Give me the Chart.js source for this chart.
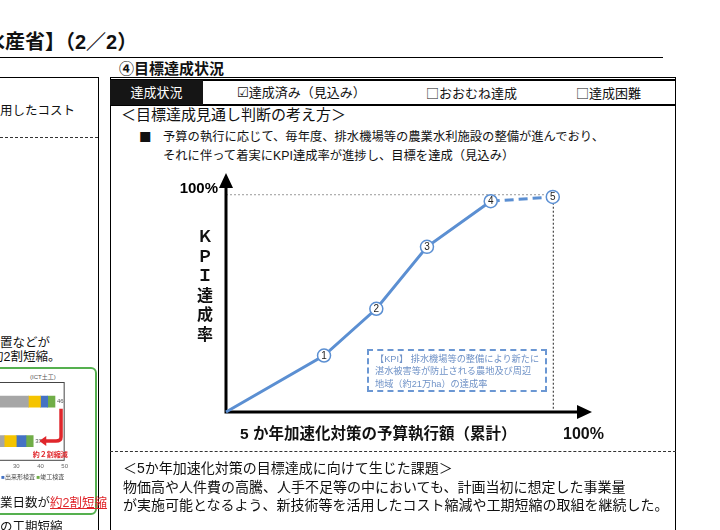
<!DOCTYPE html>
<html lang="ja">
<head>
<meta charset="utf-8">
<script src="https://cdn.jsdelivr.net/npm/chart.js@4.4.1/dist/chart.umd.min.js"></script>
<style>
  html, body { margin:0; padding:0; background:#fff; }
  body { width:720px; height:530px; position:relative; overflow:hidden;
         font-family:"Liberation Sans","Noto Sans CJK JP",sans-serif; color:#111; }
  .t { position:absolute; white-space:nowrap; line-height:1; }
  .b { font-weight:bold; }
  .ln { position:absolute; background:#000; }
  .cj { font-family:"Noto Sans CJK JP"; }
  .dv { font-family:"DejaVu Sans"; }
  canvas { position:absolute; }
</style>
</head>
<body>

<!-- page title / section title -->
<div class="t b" style="left:-75px;top:32px;font-size:20px;">【農林水産省】（2／2）</div>
<div class="ln" style="left:0;top:57px;width:663px;height:1px;"></div>
<div class="t b" style="left:119px;top:61px;font-size:15px;">④目標達成状況</div>

<!-- left (cut off) panel -->
<div class="ln" style="left:0;top:77px;width:98px;height:1px;"></div>
<div class="ln" style="left:98px;top:77px;width:1px;height:460px;"></div>
<div class="t" style="left:0;top:105px;font-size:12.5px;">用したコスト</div>
<div style="position:absolute;left:0;top:137px;width:98px;border-top:1px dashed #333;"></div>
<div class="t" style="left:0;top:337px;font-size:12.5px;">置などが</div>
<div class="t" style="left:-9px;top:351px;font-size:12.5px;">約2割短縮。</div>
<div style="position:absolute;left:-10px;top:367px;width:103px;height:144px;border:2px solid #55b04f;border-radius:6px;"></div>
<div class="t" style="left:30px;top:374px;font-size:6px;color:#555;">(ICT土工)</div>
<canvas id="chart_ict" width="130" height="95" style="left:-60px;top:380px;"></canvas>
<div class="t" style="left:-22px;top:474px;font-size:6px;color:#444;">
  <span style="color:#f5c400">■</span>準備費 <span style="color:#4472c4">■</span>出来形検査 <span style="color:#70ad47">■</span>竣工検査</div>
<div class="t" style="left:-12.5px;top:497px;font-size:12.5px;">作業日数が<span style="color:#e0262b;text-decoration:underline;">約2割短縮</span></div>
<div class="t" style="left:0;top:521px;font-size:12.5px;">の工期短縮</div>

<!-- right panel frame -->
<div style="position:absolute;left:110px;top:77px;width:566px;height:470px;border:1px solid #000;box-sizing:border-box;"></div>
<div style="position:absolute;left:110px;top:79px;width:566px;height:27px;border-top:2px solid #000;border-bottom:2px solid #000;box-sizing:border-box;"></div>
<div style="position:absolute;left:110px;top:80px;width:93px;height:25px;background:#151515;"></div>
<div class="t" style="left:110px;top:86px;width:93px;text-align:center;font-size:13px;color:#fff;">達成状況</div>
<div class="t" style="left:237px;top:86px;font-size:13px;"><span class="dv" style="font-size:13px;">☑</span>達成済み（見込み）</div>
<div class="t" style="left:426px;top:86px;font-size:13px;"><span class="cj">□</span>おおむね達成</div>
<div class="t" style="left:576px;top:86px;font-size:13px;"><span class="cj">□</span>達成困難</div>

<div class="t" style="left:121px;top:107px;font-size:15px;">＜目標達成見通し判断の考え方＞</div>
<div class="t cj" style="left:139px;top:131px;font-size:12.5px;">■</div>
<div class="t" style="left:163px;top:131px;font-size:12.3px;">予算の執行に応じて、毎年度、排水機場等の農業水利施設の整備が進んでおり、</div>
<div class="t" style="left:163px;top:150px;font-size:12.3px;">それに伴って着実にKPI達成率が進捗し、目標を達成（見込み）</div>

<!-- main KPI chart -->
<canvas id="chart_kpi" width="560" height="290" style="left:110px;top:160px;"></canvas>
<div class="t b" style="left:196px;top:227px;width:18px;text-align:center;font-size:16px;line-height:19.5px;">Ｋ<br>Ｐ<br>Ｉ<br>達<br>成<br>率</div>
<div style="position:absolute;left:367px;top:349px;width:180px;height:43px;border:2px dashed #6b97d3;box-sizing:border-box;"></div>
<div class="t" style="left:375px;top:353px;font-size:9.2px;line-height:12.3px;color:#6f92c7;">【KPI】 排水機場等の整備により新たに<br>湛水被害等が防止される農地及び周辺<br>地域（約21万ha）の達成率</div>
<div class="t b" style="left:240px;top:426px;font-size:15.5px;">5 か年加速化対策の予算執行額（累計）</div>
<div class="t b" style="left:563px;top:426px;font-size:16px;">100%</div>

<!-- issues -->
<div style="position:absolute;left:110px;top:451px;width:566px;border-top:1px dashed #333;"></div>
<div class="t" style="left:123px;top:461px;font-size:14px;">＜5か年加速化対策の目標達成に向けて生じた課題＞</div>
<div class="t" style="left:123px;top:480px;font-size:14px;">物価高や人件費の高騰、人手不足等の中においても、計画当初に想定した事業量</div>
<div class="t" style="left:123px;top:498px;font-size:14px;">が実施可能となるよう、新技術等を活用したコスト縮減や工期短縮の取組を継続した。</div>

<script>
/* ------------------
  data
-------------------*/
// KPI達成率 vs 予算執行額（累計） — both in %
var budgetPct = [0, 30, 46, 61.5, 81, 100];
var kpiPct = [0, 26, 47.5, 76, 97, 99];
var stepLabels = ['', '1', '2', '3', '4', '5'];

// ICT土工 作業日数 (left panel, mostly cut off)
var ictRows = ['従来', 'ICT'];
var daysWork = [35, 25];
var daysPrep = [5, 5];
var daysCheck = [3, 4];
var daysFinal = [3, 3];
var daysTotal = [46, 37];

var lineBlue = '#5b8fd2';

/* ------------------
  KPI line chart
-------------------*/
var kpiAxes = {
  id: 'kpiAxes',
  beforeDatasetsDraw: function (chart) {
    var ctx = chart.ctx, x = chart.scales.x, y = chart.scales.y;
    var x0 = x.getPixelForValue(0), y0 = y.getPixelForValue(0);
    var x100 = x.getPixelForValue(100), y100 = y.getPixelForValue(100);
    var xEnd = x.getPixelForValue(x.max), yEnd = y.getPixelForValue(y.max);
    ctx.save();
    // dotted guides at 100%
    ctx.lineWidth = 1;
    ctx.setLineDash([2, 2]);
    ctx.strokeStyle = '#9a9a9a';
    ctx.beginPath(); ctx.moveTo(x0, y100); ctx.lineTo(x100, y100); ctx.stroke();
    ctx.strokeStyle = '#222';
    ctx.beginPath(); ctx.moveTo(x100 + 0.5, y100); ctx.lineTo(x100 + 0.5, y0 - 3); ctx.stroke();
    ctx.setLineDash([]);
    // axes
    ctx.strokeStyle = '#000';
    ctx.lineWidth = 3;
    ctx.beginPath();
    ctx.moveTo(x0, yEnd + 12);
    ctx.lineTo(x0, y0);
    ctx.lineTo(xEnd - 12, y0);
    ctx.stroke();
    // arrow heads
    ctx.fillStyle = '#000';
    ctx.beginPath();
    ctx.moveTo(x0, yEnd); ctx.lineTo(x0 - 7, yEnd + 15); ctx.lineTo(x0 + 7, yEnd + 15);
    ctx.closePath(); ctx.fill();
    ctx.beginPath();
    ctx.moveTo(xEnd, y0); ctx.lineTo(xEnd - 15, y0 - 7); ctx.lineTo(xEnd - 15, y0 + 7);
    ctx.closePath(); ctx.fill();
    // 100% on the vertical axis
    ctx.font = 'bold 15px "Liberation Sans"';
    ctx.textAlign = 'right';
    ctx.textBaseline = 'alphabetic';
    ctx.fillText('100%', x0 - 8, y100 - 2);
    ctx.restore();
  },
  afterDatasetsDraw: function (chart) {
    var ctx = chart.ctx;
    var pts = chart.getDatasetMeta(0).data;
    ctx.save();
    ctx.font = '10px "Liberation Sans"';
    ctx.fillStyle = '#222';
    ctx.textAlign = 'center';
    ctx.textBaseline = 'middle';
    pts.forEach(function (p, i) {
      if (stepLabels[i]) ctx.fillText(stepLabels[i], p.x, p.y + 0.5);
    });
    ctx.restore();
  }
};

var chart_kpi = new Chart(document.getElementById('chart_kpi'), {
  type: 'line',
  data: {
    datasets: [{
      label: 'KPI達成率',
      data: budgetPct.map(function (v, i) { return { x: v, y: kpiPct[i] }; }),
      borderColor: lineBlue,
      borderWidth: 3,
      tension: 0,
      clip: false,
      pointRadius: stepLabels.map(function (s) { return s ? 6.5 : 0; }),
      pointBackgroundColor: '#fff',
      pointBorderColor: lineBlue,
      pointBorderWidth: 1.5,
      segment: {
        borderDash: function (c) { return c.p0DataIndex === 4 ? [9, 5] : undefined; }
      }
    }]
  },
  options: {
    responsive: false,
    animation: false,
    layout: { padding: { left: 116, top: 13, right: 78, bottom: 38 } },
    plugins: { legend: { display: false }, tooltip: { enabled: false } },
    scales: {
      x: { type: 'linear', min: 0, max: 112, display: false },
      y: { type: 'linear', min: 0, max: 110, display: false }
    }
  },
  plugins: [kpiAxes]
});

/* ------------------
  ICT bar chart (left panel)
-------------------*/
var ictExtras = {
  id: 'ictExtras',
  afterDatasetsDraw: function (chart) {
    var ctx = chart.ctx, x = chart.scales.x, y = chart.scales.y, a = chart.chartArea;
    ctx.save();
    ctx.strokeStyle = '#444';
    ctx.lineWidth = 1;
    ctx.strokeRect(a.left + 0.5, a.top + 0.5, a.right - a.left - 1, a.bottom - a.top - 1);
    ctx.font = '6px "Liberation Sans"';
    ctx.fillStyle = '#555';
    ctx.textBaseline = 'middle';
    daysTotal.forEach(function (v, i) {
      ctx.fillText(String(v), x.getPixelForValue(v) + 2, y.getPixelForValue(i));
    });
    // red arrow 46 -> 37
    var yTop = y.getPixelForValue(0) + 7, yBot = y.getPixelForValue(1);
    var xa = x.getPixelForValue(48.5), xb = x.getPixelForValue(39.5);
    ctx.strokeStyle = '#e0262b';
    ctx.fillStyle = '#e0262b';
    ctx.lineWidth = 3.5;
    ctx.beginPath();
    ctx.moveTo(xa, yTop);
    ctx.lineTo(xa, yBot - 4);
    ctx.quadraticCurveTo(xa, yBot, xa - 5, yBot);
    ctx.lineTo(xb + 6, yBot);
    ctx.stroke();
    ctx.beginPath();
    ctx.moveTo(xb, yBot); ctx.lineTo(xb + 7, yBot - 5); ctx.lineTo(xb + 7, yBot + 5);
    ctx.closePath(); ctx.fill();
    ctx.font = 'bold 7px "Noto Sans CJK JP"';
    ctx.textAlign = 'center';
    ctx.fillText('約２割縮減', x.getPixelForValue(44), yBot + 13);
    ctx.restore();
  }
};

var chart_ict = new Chart(document.getElementById('chart_ict'), {
  type: 'bar',
  data: {
    labels: ictRows,
    datasets: [
      { label: '作業', data: daysWork, backgroundColor: '#a6a6a6' },
      { label: '準備費', data: daysPrep, backgroundColor: '#f5c400' },
      { label: '出来形検査', data: daysCheck, backgroundColor: '#4472c4' },
      { label: '竣工検査', data: daysFinal, backgroundColor: '#70ad47' }
    ]
  },
  options: {
    indexAxis: 'y',
    responsive: false,
    animation: false,
    datasets: { bar: { barThickness: 11 } },
    layout: { padding: { left: 0, top: 2, right: 3, bottom: 3 } },
    plugins: { legend: { display: false }, tooltip: { enabled: false } },
    scales: {
      x: {
        stacked: true, min: 0, max: 50,
        grid: { display: false, drawTicks: false },
        border: { display: false },
        ticks: { stepSize: 10, padding: 2, font: { size: 6 }, color: '#666' }
      },
      y: { stacked: true, display: false }
    }
  },
  plugins: [ictExtras]
});
</script>
</body>
</html>
